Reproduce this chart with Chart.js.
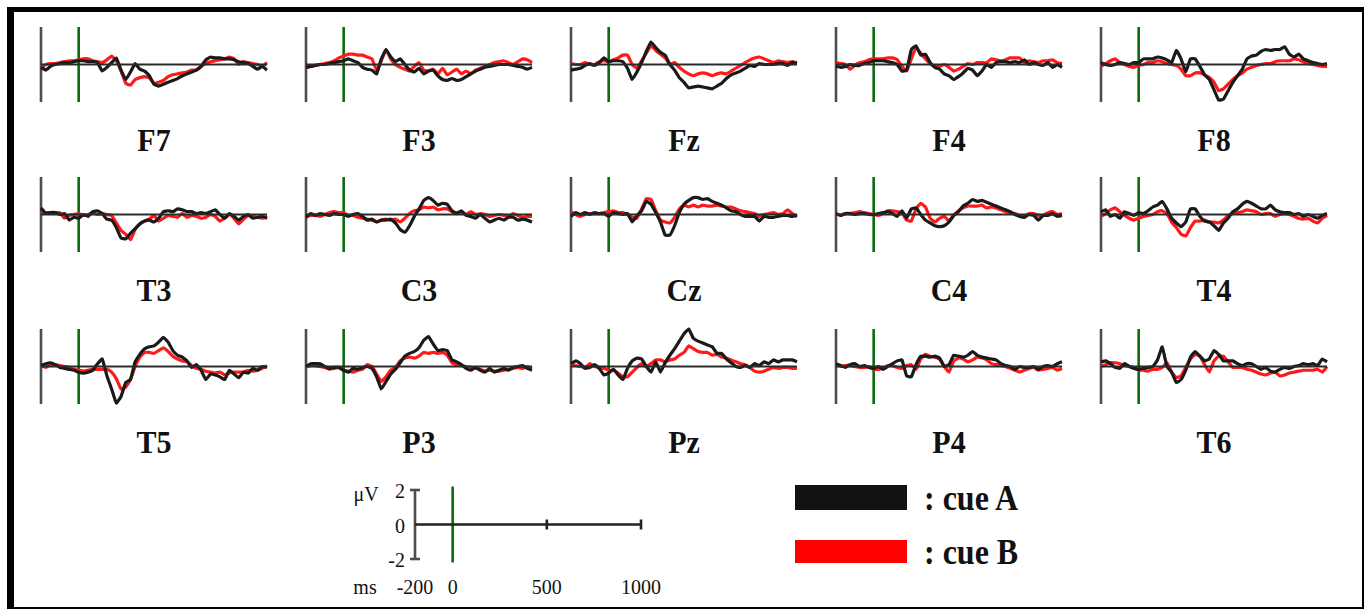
<!DOCTYPE html>
<html>
<head>
<meta charset="utf-8">
<title>ERP cue A / cue B</title>
<script src="https://cdn.jsdelivr.net/npm/chart.js@4.4.1/dist/chart.umd.min.js"></script>
<style>
  body { margin: 0; background: #fff; }
  #fig { position: relative; width: 1364px; height: 609px; background: #fff; overflow: hidden;
         font-family: "Liberation Serif", "Times New Roman", serif; color: #111; }
  #frame { position: absolute; left: 7px; top: 7px; width: 1348px; height: 595px;
           border-left: 7px solid #000; border-top: 5px solid #000;
           border-right: 2px solid #000; border-bottom: 2px solid #000; }
  canvas { position: absolute; }
  .chan { position: absolute; font-weight: bold; font-size: 30px; line-height: 30px;
          transform: translate(-50%, -50%) scaleY(1.08); white-space: nowrap; }
  .tick { position: absolute; font-size: 20px; line-height: 20px; white-space: nowrap; }
  .key { position: absolute; width: 112px; }
  .keytxt { position: absolute; font-weight: bold; font-size: 32px; line-height: 32px;
            transform: translateY(-50%) scaleY(1.1); white-space: nowrap; }
</style>
</head>
<body>
<div id="fig"><div id="frame"></div></div>
<script>
// time axis (ms)
const times = [-200, -175, -150, -125, -100, -75, -50, -25, 0, 25, 50, 75, 100, 125, 150, 175,
  200, 225, 250, 275, 300, 325, 350, 375, 400, 425, 450, 475, 500, 525, 550, 575, 600, 625,
  650, 675, 700, 725, 750, 775, 800, 825, 850, 875, 900, 925, 950, 975, 1000];

const channels = ['F7', 'F3', 'Fz', 'F4', 'F8', 'T3', 'C3', 'Cz', 'C4', 'T4', 'T5', 'P3', 'Pz', 'P4', 'T6'];
const seriesNames = ['cue A', 'cue B'];
const seriesColors = ['#1a1a1a', '#ff1a1a'];

// scale bar ticks
const yTicks = [2, 0, -2];
const xTicks = [-200, 0, 500, 1000];

// amplitudes in µV, cue A (black) and cue B (red)
const f7A = [-0.15,-0.3,-0.1,0.0,0.05,0.1,0.1,0.15,0.2,0.2,0.15,0.15,0.1,-0.35,-0.15,0.1,0.35,-0.3,-0.8,-0.4,0.05,-0.25,-0.35,-0.6,-1.05,-1.15,-1.05,-0.95,-0.85,-0.75,-0.6,-0.5,-0.4,-0.3,-0.1,0.25,0.4,0.35,0.35,0.3,0.3,0.25,0.15,0.1,0.05,-0.1,-0.25,-0.1,-0.3];
const f7B = [-0.25,0.0,0.05,0.05,0.1,0.15,0.2,0.2,0.25,0.3,0.3,0.2,0.15,0.1,0.25,0.45,0.2,-0.35,-1.0,-1.1,-0.8,-0.7,-0.65,-0.7,-1.0,-0.95,-0.85,-0.65,-0.55,-0.5,-0.45,-0.4,-0.3,-0.3,-0.1,0.05,0.15,0.2,0.25,0.3,0.4,0.3,0.0,0.15,0.1,0.05,0.0,-0.1,0.1];
const f3A = [-0.15,-0.1,-0.05,0.0,0.0,0.05,0.1,0.15,0.2,0.3,0.2,0.1,-0.15,-0.25,-0.3,-0.5,0.3,0.8,0.4,0.15,0.3,0.0,-0.3,-0.4,-0.2,-0.5,-0.35,-0.3,-0.6,-0.8,-0.85,-0.75,-0.85,-0.8,-0.65,-0.5,-0.35,-0.25,-0.15,-0.1,-0.05,0.0,0.0,0.0,-0.05,-0.1,-0.15,-0.25,-0.15];
const f3B = [-0.15,-0.1,-0.05,0.0,0.05,0.1,0.2,0.35,0.45,0.55,0.55,0.5,0.5,0.4,0.3,-0.3,0.2,0.8,0.3,0.0,-0.15,-0.25,-0.35,-0.1,0.1,-0.3,-0.35,-0.25,-0.5,-0.2,-0.55,-0.4,-0.25,-0.5,-0.35,-0.5,-0.3,-0.2,-0.1,0.0,0.1,0.15,0.2,0.1,0.0,0.15,0.3,0.25,0.1];
const fzA = [-0.3,-0.25,-0.2,-0.05,0.05,-0.05,0.1,0.35,0.15,0.2,0.2,0.15,-0.2,-0.8,-0.4,0.1,0.7,1.2,0.9,0.65,0.5,0.0,-0.3,-0.7,-0.95,-1.25,-1.2,-1.15,-1.2,-1.25,-1.3,-1.15,-1.0,-0.75,-0.55,-0.45,-0.35,-0.2,-0.05,-0.1,0.05,0.0,0.0,0.0,0.05,0.05,-0.05,0.1,0.05];
const fzB = [0.05,0.0,0.0,0.1,0.0,0.0,0.15,0.2,0.15,0.25,0.35,0.5,0.5,0.0,-0.2,0.2,0.6,1.0,0.75,0.55,0.35,0.0,0.1,-0.15,-0.35,-0.5,-0.6,-0.5,-0.45,-0.5,-0.6,-0.5,-0.45,-0.5,-0.35,-0.2,-0.05,0.1,0.25,0.35,0.4,0.3,0.2,0.1,0.2,0.15,0.1,0.15,0.1];
const f4A = [-0.1,-0.15,-0.1,0.0,-0.05,-0.05,0.05,0.1,0.2,0.2,0.2,0.15,0.1,0.0,-0.35,-0.3,0.8,1.0,0.5,0.55,0.1,-0.15,-0.25,-0.5,-0.6,-0.8,-0.65,-0.45,-0.2,-0.3,-0.6,-0.35,0.0,-0.15,0.1,0.15,0.15,0.1,0.15,0.1,0.25,0.0,0.1,0.0,-0.05,0.1,-0.15,0.0,-0.15];
const f4B = [0.1,0.05,0.0,-0.25,-0.05,0.1,0.15,0.25,0.3,0.3,0.3,0.35,0.35,0.25,-0.1,-0.35,0.3,0.9,0.6,0.3,0.05,-0.1,-0.1,0.0,-0.15,-0.35,-0.25,-0.1,0.05,0.0,0.1,0.1,0.1,0.3,0.25,0.2,0.25,0.35,0.35,0.35,0.1,0.2,0.15,0.1,0.2,0.2,0.25,0.1,0.05];
const f8A = [0.1,0.0,-0.05,0.0,0.1,0.05,0.0,0.1,0.1,0.3,0.3,0.3,0.4,0.35,0.25,0.1,0.75,0.3,-0.4,0.3,0.3,-0.1,-0.55,-0.8,-1.35,-1.9,-1.85,-1.4,-0.95,-0.6,-0.25,0.3,0.45,0.5,0.7,0.8,0.75,0.8,0.8,0.95,0.55,0.4,0.55,0.3,0.2,0.1,0.05,0.0,0.05];
const f8B = [-0.1,0.05,0.2,0.3,0.1,0.0,-0.1,-0.15,-0.05,0.0,0.1,0.1,0.2,0.15,0.05,0.0,-0.05,-0.25,-0.6,-0.6,-0.45,-0.45,-0.55,-0.7,-0.95,-1.4,-1.3,-1.05,-0.8,-0.6,-0.45,-0.25,-0.15,-0.05,0.0,0.05,0.05,0.15,0.2,0.2,0.2,0.3,0.25,0.15,0.05,0.0,-0.05,-0.1,-0.1];
const t3A = [0.35,0.05,0.1,0.1,0.0,0.05,-0.3,-0.15,-0.2,0.0,-0.1,0.15,0.2,0.05,-0.25,-0.3,-0.7,-1.25,-1.3,-1.0,-0.75,-0.5,-0.35,-0.3,-0.4,-0.2,0.15,0.2,0.15,0.3,0.25,0.15,0.15,0.05,0.1,0.05,0.15,0.25,0.0,-0.2,0.05,-0.1,-0.3,-0.1,0.0,-0.2,-0.15,-0.1,-0.2];
const t3B = [0.05,0.1,0.1,0.1,0.1,-0.2,-0.05,0.0,0.05,-0.05,0.0,0.1,0.0,0.05,0.0,-0.05,-0.45,-0.85,-1.05,-1.35,-0.8,-0.5,-0.35,-0.25,-0.05,-0.35,-0.2,-0.05,-0.1,-0.15,0.05,-0.15,-0.05,-0.1,-0.2,-0.15,0.0,-0.1,-0.35,-0.2,0.0,-0.2,-0.5,-0.25,-0.05,-0.1,-0.15,-0.2,-0.1];
const c3A = [-0.15,0.05,-0.05,0.05,0.0,-0.05,0.05,0.0,0.0,-0.1,0.0,0.05,-0.1,-0.3,-0.25,-0.4,-0.3,-0.3,-0.25,-0.45,-0.8,-0.95,-0.6,-0.1,0.3,0.75,0.9,0.75,0.5,0.6,0.55,0.2,0.05,0.2,-0.05,-0.1,-0.2,0.0,-0.2,-0.4,-0.3,-0.2,-0.3,-0.15,-0.15,-0.3,-0.25,-0.3,-0.4];
const c3B = [-0.1,-0.05,-0.05,-0.1,0.0,0.1,0.15,0.1,0.1,-0.05,-0.05,-0.15,-0.2,-0.25,-0.3,-0.4,-0.3,-0.25,-0.3,-0.25,-0.4,-0.2,0.05,0.2,0.25,0.4,0.35,0.4,0.25,0.3,0.3,0.15,0.1,0.15,0.0,0.15,0.0,0.05,0.0,-0.1,-0.05,0.0,-0.05,-0.1,0.05,-0.05,-0.15,-0.1,-0.1];
const czA = [-0.1,0.1,0.0,0.1,0.0,0.1,0.05,0.05,-0.1,0.1,0.05,0.0,0.05,-0.4,-0.05,0.2,0.7,0.55,0.1,-0.4,-1.1,-1.1,-0.6,0.1,0.55,0.75,0.9,0.9,0.8,0.85,0.7,0.6,0.5,0.35,0.2,0.15,0.0,-0.1,-0.1,-0.1,-0.35,-0.1,-0.15,-0.15,-0.1,-0.05,-0.05,-0.1,-0.05];
const czB = [0.15,0.0,-0.1,0.0,0.05,0.05,0.05,0.1,0.15,0.2,0.1,0.1,0.0,-0.15,-0.2,0.3,0.85,0.8,0.2,-0.3,-0.4,-0.45,-0.15,0.3,0.5,0.4,0.5,0.4,0.5,0.45,0.45,0.5,0.45,0.4,0.4,0.3,0.2,0.15,0.1,0.05,-0.1,0.0,0.05,0.1,0.0,0.05,0.25,0.05,-0.1];
const c4A = [0.05,-0.05,0.05,0.05,0.0,0.05,0.05,0.0,0.0,0.05,0.1,0.15,0.05,-0.1,0.2,-0.2,0.3,0.35,0.0,-0.3,-0.45,-0.6,-0.65,-0.6,-0.4,-0.05,0.15,0.45,0.6,0.8,0.7,0.75,0.65,0.55,0.45,0.35,0.25,0.15,0.0,-0.1,-0.15,0.0,-0.05,-0.3,-0.05,-0.05,0.05,-0.1,-0.05];
const c4B = [0.05,-0.05,0.05,0.05,0.1,0.15,0.1,0.05,0.0,-0.05,0.05,0.2,0.2,0.15,0.1,-0.3,-0.35,0.3,0.6,0.4,-0.2,-0.4,-0.2,-0.1,-0.35,-0.05,0.2,0.35,0.45,0.45,0.45,0.5,0.35,0.4,0.35,0.25,0.15,0.1,0.05,-0.05,-0.1,0.05,0.05,-0.05,-0.05,0.1,0.15,0.0,0.05];
const t4A = [0.15,0.25,-0.1,0.0,-0.2,0.15,0.05,-0.05,0.1,0.05,0.2,0.4,0.5,0.7,0.3,-0.2,-0.45,-0.65,-0.4,0.3,0.3,-0.1,-0.35,-0.4,-0.6,-0.85,-0.45,-0.2,0.15,0.3,0.55,0.7,0.6,0.45,0.3,0.3,0.5,0.25,0.15,0.1,0.1,0.0,0.05,-0.1,0.0,-0.1,-0.2,-0.05,0.05];
const t4B = [-0.1,0.05,0.25,0.35,0.15,-0.05,-0.2,-0.3,-0.2,-0.1,-0.05,0.0,0.15,0.2,0.05,-0.4,-0.7,-1.05,-1.15,-0.7,-0.35,-0.35,-0.3,-0.4,-0.4,-0.45,-0.3,-0.05,0.05,0.1,0.15,0.25,0.2,0.15,0.0,0.05,0.05,-0.1,0.0,0.05,0.0,-0.1,-0.2,-0.25,-0.2,-0.35,-0.45,-0.2,-0.05];
const t5A = [0.05,0.15,0.2,0.1,-0.05,-0.1,-0.15,-0.2,-0.3,-0.35,-0.3,-0.2,0.15,0.4,-0.5,-1.2,-1.95,-1.6,-0.85,-0.7,0.25,0.65,0.95,1.05,1.1,1.3,1.55,1.3,0.85,0.6,0.5,0.3,-0.05,0.1,-0.2,-0.7,-0.4,-0.45,-0.55,-0.7,-0.2,-0.4,-0.6,-0.3,-0.35,-0.1,-0.2,0.0,-0.05];
const t5B = [0.05,-0.05,0.1,0.1,0.05,0.0,-0.05,-0.15,-0.2,-0.25,-0.2,-0.15,-0.15,-0.15,-0.15,-0.3,-0.65,-1.2,-1.1,-0.7,0.0,0.5,0.75,0.75,0.7,0.85,1.0,0.8,0.55,0.4,0.3,0.25,0.05,-0.1,-0.15,-0.25,-0.3,-0.35,-0.3,-0.45,-0.35,-0.3,-0.3,-0.3,-0.2,-0.25,-0.2,-0.1,0.05];
const p3A = [0.0,0.15,0.15,0.15,0.0,-0.1,-0.05,-0.05,-0.2,-0.3,-0.1,-0.15,-0.05,0.0,-0.1,-0.55,-1.2,-0.8,-0.4,-0.15,0.2,0.55,0.7,0.8,1.0,1.4,1.6,1.2,0.85,0.9,0.85,0.35,0.25,0.1,-0.1,-0.2,-0.05,-0.2,-0.3,-0.1,-0.3,-0.2,-0.1,-0.2,-0.05,0.0,0.05,-0.1,-0.2];
const p3B = [0.0,0.05,0.05,0.0,-0.05,-0.15,-0.1,-0.05,-0.2,-0.25,-0.3,-0.2,-0.15,0.1,0.0,-0.4,-0.8,-0.55,-0.2,-0.05,0.3,0.45,0.5,0.45,0.55,0.75,0.7,0.75,0.7,0.75,0.6,0.2,0.1,0.05,0.0,-0.05,-0.1,-0.15,-0.25,-0.2,-0.25,-0.25,-0.2,-0.15,-0.1,-0.05,-0.1,0.0,-0.1];
const pzA = [0.15,0.3,0.15,-0.1,-0.05,0.1,-0.1,-0.45,-0.35,-0.15,-0.45,-0.7,-0.1,0.3,0.45,0.4,0.0,-0.3,0.25,-0.3,0.2,0.6,0.95,1.35,1.75,2.0,1.5,1.35,1.25,1.15,1.05,0.7,0.7,0.4,0.2,0.0,-0.05,0.05,-0.05,0.15,0.05,0.25,0.15,0.35,0.25,0.35,0.35,0.35,0.25];
const pzB = [0.15,0.05,0.0,-0.05,0.15,0.0,-0.05,-0.1,-0.2,-0.2,-0.35,-0.55,-0.55,-0.3,-0.05,0.15,0.0,0.15,0.35,0.35,0.25,0.35,0.4,0.6,0.75,1.1,0.95,0.8,0.75,0.75,0.6,0.65,0.5,0.45,0.35,0.25,0.15,0.1,-0.05,-0.25,-0.3,-0.25,-0.15,-0.05,-0.1,-0.05,-0.05,-0.1,-0.1];
const p4A = [0.15,0.05,-0.05,0.1,0.15,0.0,0.05,-0.05,-0.1,0.0,-0.15,0.0,0.15,0.3,0.35,-0.5,-0.55,0.1,0.55,0.55,0.5,0.55,0.45,0.0,0.1,0.6,0.55,0.5,0.6,0.8,0.6,0.5,0.45,0.4,0.35,0.15,0.05,0.0,-0.15,0.0,-0.05,-0.05,0.0,-0.15,0.0,0.05,0.0,0.15,0.25];
const p4B = [0.15,0.0,0.05,0.05,0.0,-0.05,-0.05,0.0,-0.15,-0.15,-0.1,0.05,0.05,-0.05,-0.1,0.05,0.1,-0.15,0.4,0.65,0.55,0.5,0.4,0.0,-0.3,0.3,0.45,0.4,0.25,0.35,0.5,0.45,0.35,0.15,0.1,0.05,0.0,-0.1,-0.2,-0.3,-0.2,-0.1,-0.05,-0.2,-0.15,-0.1,-0.05,-0.2,-0.1];
const t6A = [0.25,0.3,0.15,-0.05,-0.1,0.15,0.0,-0.1,-0.15,-0.1,-0.05,0.0,0.35,1.05,0.0,-0.3,-0.85,-0.7,-0.2,0.5,0.8,0.55,0.3,0.4,0.85,0.65,0.3,0.3,0.3,0.15,0.05,0.15,0.15,0.0,-0.15,-0.05,-0.25,-0.3,-0.15,-0.05,-0.1,0.0,0.05,0.15,0.1,0.15,0.05,0.4,0.25];
const t6B = [0.0,0.1,0.2,0.2,0.15,0.05,0.0,-0.05,-0.2,-0.2,-0.25,-0.15,-0.15,-0.05,0.2,-0.3,-0.6,-0.5,-0.05,0.4,0.65,0.55,0.1,-0.3,0.3,0.55,0.55,0.25,-0.05,-0.05,-0.05,-0.15,-0.2,-0.3,-0.4,-0.45,-0.35,-0.3,-0.5,-0.45,-0.35,-0.3,-0.25,-0.2,-0.2,-0.2,-0.15,-0.3,0.0];

const cueA = [f7A, f3A, fzA, f4A, f8A, t3A, c3A, czA, c4A, t4A, t5A, p3A, pzA, p4A, t6A];
const cueB = [f7B, f3B, fzB, f4B, f8B, t3B, c3B, czB, c4B, t4B, t5B, p3B, pzB, p4B, t6B];

// layout
const PAD = 8;
const PW = 226, PH = 75;
const panelLeft = [41, 306, 571, 836, 1101];
const rowTop = [27, 177, 329];
const fig = document.getElementById('fig');

function seg(x0, y0, x1, y1) {
    return [{ x: x0, y: y0 }, { x: x1, y: y1 }];
}

function baseOptions() {
    return {
        responsive: false,
        animation: false,
        events: [],
        layout: { padding: PAD },
        elements: { point: { radius: 0 }, line: { tension: 0.1, borderJoinStyle: 'round', borderCapStyle: 'butt' } },
        plugins: { legend: { display: false }, tooltip: { enabled: false }, title: { display: false } },
        scales: {
            x: { type: 'linear', min: -200, max: 1000, display: false },
            y: { type: 'linear', min: -2, max: 2, display: false }
        }
    };
}

function addCanvas(left, top, w, h) {
    const cv = document.createElement('canvas');
    cv.width = w + 2 * PAD;
    cv.height = h + 2 * PAD;
    cv.style.left = (left - PAD) + 'px';
    cv.style.top = (top - PAD) + 'px';
    fig.appendChild(cv);
    return cv;
}

function makePanel(cv, a, b) {
    return new Chart(cv.getContext('2d'), {
        type: 'line',
        data: {
            datasets: [
                { data: seg(-200, 0, 1000, 0), borderColor: '#2a2a2a', borderWidth: 2, order: 0, clip: false },
                { label: seriesNames[0], data: times.map((t, i) => ({ x: t, y: a[i] })), borderColor: seriesColors[0], borderWidth: 3.2, order: 1, clip: false },
                { label: seriesNames[1], data: times.map((t, i) => ({ x: t, y: b[i] })), borderColor: seriesColors[1], borderWidth: 3.2, order: 2, clip: false },
                { data: seg(0, -2, 0, 2), borderColor: '#0b6a0b', borderWidth: 2.6, order: 3, clip: false },
                { data: seg(-200, -2, -200, 2), borderColor: '#4d4d4d', borderWidth: 2.6, order: 4, clip: false }
            ]
        },
        options: baseOptions()
    });
}

channels.forEach((name, k) => {
    const col = k % 5, row = Math.floor(k / 5);
    const cv = addCanvas(panelLeft[col], rowTop[row], PW, PH);
    makePanel(cv, cueA[k], cueB[k]);

    const lbl = document.createElement('div');
    lbl.className = 'chan';
    lbl.textContent = name;
    lbl.style.left = (panelLeft[col] + PW / 2) + 'px';
    lbl.style.top = (rowTop[row] + 113) + 'px';
    fig.appendChild(lbl);
});

// scale bar
const SL = 415, ST = 490, SH = 69;
const scv = addCanvas(SL, ST, PW, SH);
const scaleChart = new Chart(scv.getContext('2d'), {
    type: 'line',
    data: {
        datasets: [
            { data: seg(-200, 0, 1000, 0), borderColor: '#222', borderWidth: 2.6, order: 0, clip: false },
            { data: seg(-200, -2, -200, 2), borderColor: '#4d4d4d', borderWidth: 2.6, order: 1, clip: false },
            { data: seg(0, -2.2, 0, 2.2), borderColor: '#0b6a0b', borderWidth: 2.6, order: 2, clip: false },
            { data: yTicks.filter(v => v !== 0).map(v => ({ x: -200, y: v })), showLine: false,
              pointStyle: 'line', pointRadius: 5, pointBorderWidth: 2.6, pointBorderColor: '#4d4d4d', order: 0, clip: false },
            { data: xTicks.filter(v => v > 0).map(v => ({ x: v, y: 0 })), showLine: false,
              pointStyle: 'line', pointRotation: 90, pointRadius: 5, pointBorderWidth: 2.6, pointBorderColor: '#222', order: 0, clip: false }
        ]
    },
    options: baseOptions()
});

const sx = scaleChart.scales.x, sy = scaleChart.scales.y;
const offX = SL - PAD, offY = ST - PAD;

function addTick(text, left, top, align) {
    const d = document.createElement('div');
    d.className = 'tick';
    d.textContent = text;
    d.style.left = left + 'px';
    d.style.top = top + 'px';
    d.style.transform = align === 'right' ? 'translate(-100%, -50%) scaleY(1.1)' : 'translate(-50%, -50%) scaleY(1.1)';
    fig.appendChild(d);
}

yTicks.forEach(v => addTick(String(v), offX + sx.getPixelForValue(-200) - 10, offY + sy.getPixelForValue(v), 'right'));
xTicks.forEach(v => addTick(String(v), offX + sx.getPixelForValue(v), 586, 'center'));
addTick('μV', 366, 493, 'center');
addTick('ms', 365, 586, 'center');

// legend
seriesNames.forEach((name, i) => {
    const box = document.createElement('div');
    box.className = 'key';
    box.style.left = '795px';
    box.style.top = (i === 0 ? 485 : 540) + 'px';
    box.style.height = (i === 0 ? 25 : 23) + 'px';
    box.style.background = i === 0 ? '#111' : '#ff0000';
    fig.appendChild(box);

    const txt = document.createElement('div');
    txt.className = 'keytxt';
    txt.textContent = ': ' + name;
    txt.style.left = '924px';
    txt.style.top = (i === 0 ? 498 : 552) + 'px';
    fig.appendChild(txt);
});
</script>
</body>
</html>
